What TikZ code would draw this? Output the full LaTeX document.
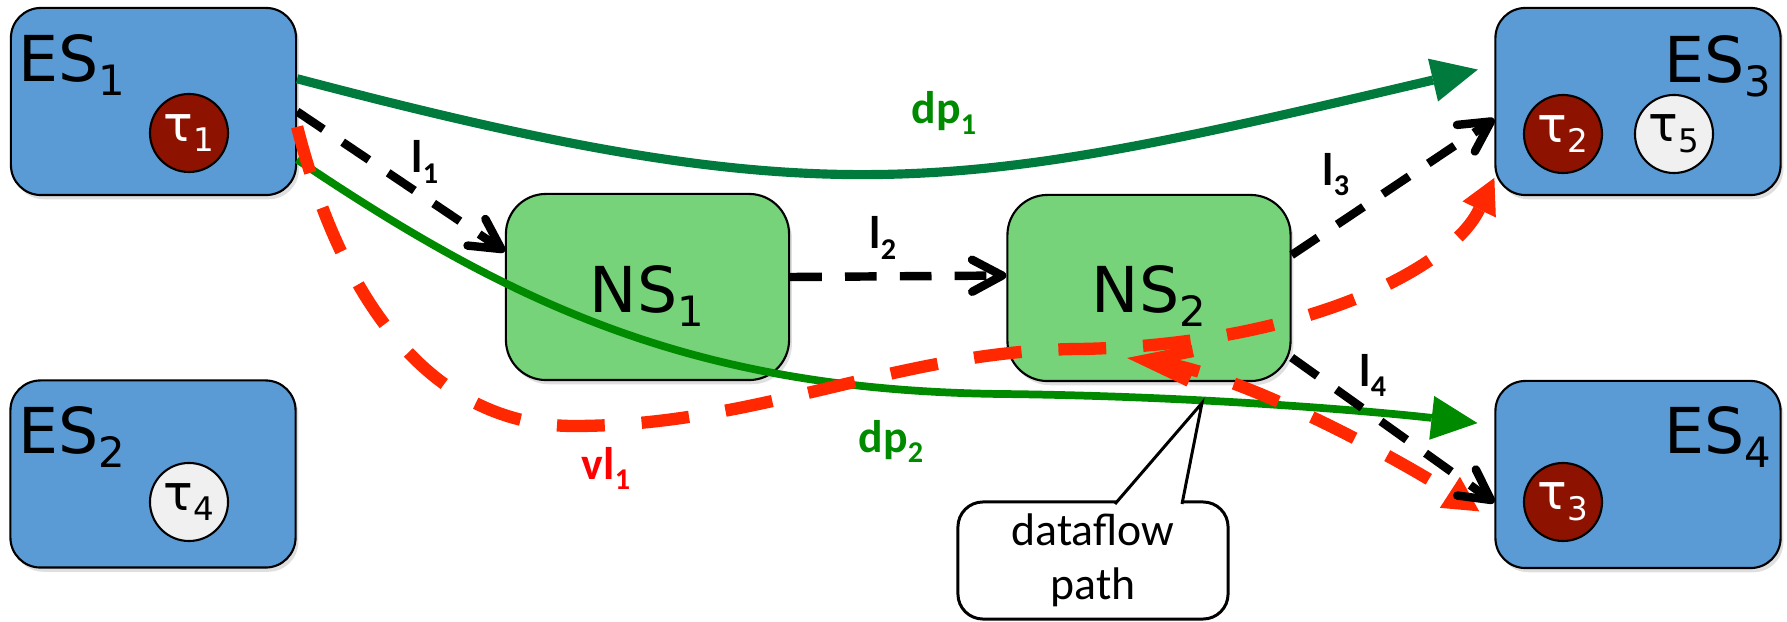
\documentclass[tikz,border=0pt]{standalone}
\usepackage{fontspec}
\setmainfont{DejaVu Sans}
\newfontfamily\calib{Carlito}
\usetikzlibrary{arrows.meta,shadows}
\definecolor{esblue}{RGB}{91,155,213}
\definecolor{nsgreen}{RGB}{118,211,122}
\definecolor{taured}{RGB}{142,18,0}
\definecolor{taulight}{RGB}{240,240,240}
\definecolor{vlred}{RGB}{255,40,0}
\definecolor{dpone}{RGB}{0,122,61}
\definecolor{dptwo}{RGB}{0,138,0}
\newcommand{\idx}[1]{\raisebox{-0.22em}{\scalebox{0.66}{#1}}}

\begin{document}
\begin{tikzpicture}[x=0.01cm,y=-0.01cm,
  es/.style={draw,fill=esblue,rounded corners=0.3cm,minimum width=2.85cm,minimum height=1.87cm,line width=0.6pt,
    drop shadow={opacity=0.25,shadow xshift=0.8pt,shadow yshift=-1.2pt}},
  ns/.style={draw,fill=nsgreen,rounded corners=0.4cm,minimum width=2.83cm,minimum height=1.86cm,line width=0.6pt,
    drop shadow={opacity=0.25,shadow xshift=0.8pt,shadow yshift=-1.2pt}},
  eslab/.style={inner sep=0pt,font=\fontsize{18}{20}\selectfont},
  task/.style={circle,draw,line width=0.6pt,minimum size=0.78cm,inner sep=0pt,font=\fontsize{14}{16}\selectfont},
  hot/.style={task,fill=taured,text=white},
  idle/.style={task,fill=taulight},
  link/.style={line width=2.4pt,dash pattern=on 9pt off 6.6pt,-{Straight Barb[length=0.3cm,width=0.32cm,round]}},
  dflow/.style={line width=2.6pt,-{Triangle[length=0.46cm,width=0.44cm,line width=0pt]}},
  vlink/.style={color=vlred,line width=3.5pt,dash pattern=on 13.6pt off 10.5pt},
  vtip/.style={-{Triangle[length=0.35cm,width=0.37cm,line width=0pt]}},
  lab/.style={inner sep=0pt,font=\calib\bfseries\fontsize{13}{15}\selectfont},
]
\useasboundingbox (0,0) rectangle (1787,622);
% end systems and switches
\node[es] (ES1) at (153.5,101.5) {};
\node[es] (ES2) at (153,474) {};
\node[es] (ES3) at (1638,101.5) {};
\node[es] (ES4) at (1638,474.5) {};
\node[ns] (NS1) at (647.5,287) {};
\node[ns] (NS2) at (1149,288) {};
\node[eslab,anchor=base west] (ES1t) at (18,82) {ES\idx{1}};
\node[eslab,anchor=base west] (ES2t) at (18,454) {ES\idx{2}};
\node[eslab,anchor=base east] (ES3t) at (1772,83) {ES\idx{3}};
\node[eslab,anchor=base east] (ES4t) at (1772,454) {ES\idx{4}};
\node[eslab,anchor=base] (NS1t) at (647,313) {NS\idx{1}};
\node[eslab,anchor=base] (NS2t) at (1149,313) {NS\idx{2}};
% tasks
\node[hot] (t1) at (189,133) {τ\idx{1}};
\node[idle] (t4) at (189,502) {τ\idx{4}};
\node[hot] (t2) at (1563,134) {τ\idx{2}};
\node[idle] (t5) at (1674,134) {τ\idx{5}};
\node[hot] (t3) at (1563,502) {τ\idx{3}};
% dataflow paths
\draw[dflow,color=dpone,shorten >=0.17cm] (ES1.9.8) .. controls (833,220) and (956,192) .. (ES3.166.4);
\draw[dflow,color=dptwo,line width=2.2pt,shorten >=0.17cm] (ES1.-22.3) .. controls (520,310) and (700,390) .. (1000,394)
  .. controls (1200,396) and (1380,412) .. (ES4.161.9);
% virtual link
\draw[vlink,vtip] (ES1.-10.1) .. controls (345,315) and (440,426) .. (574,426)
  .. controls (760,426) and (900,350) .. (1080,349) .. controls (1300,345) and (1450,270) .. (ES3.208);
\coordinate (vlsplit) at (1127,358);
\draw[vlink,{Straight Barb[length=0.45cm,width=0.3cm]}-{Triangle[length=0.35cm,width=0.37cm,line width=0pt]},shorten >=0.18cm]
  (vlsplit) .. controls (1240,372) and (1400,460) .. (ES4.-162.3);
% links
\draw[link] (ES1.-4.6) -- (NS1.166.6);
\draw[link] (NS1.4) -- (NS2.175.5);
\draw[link] (NS2.13.2) -- (ES3.-173.8);
\draw[link] (NS2.-26.4) -- (ES4.-169.8);
% labels
\node[lab] (l1) at (425,162) {l\idx{1}};
\node[lab] (l2) at (883,238) {l\idx{2}};
\node[lab] (l3) at (1336,175) {l\idx{3}};
\node[lab] (l4) at (1373,375) {l\idx{4}};
\node[lab,text=dptwo] (dp1) at (944,113) {dp\idx{1}};
\node[lab,text=dptwo] (dp2) at (891,441) {dp\idx{2}};
\node[lab,text=red] (vl1) at (606,468) {vl\idx{1}};
% callout
\node[draw,line width=0.85pt,rounded corners=0.25cm,fill=white,minimum width=2.7cm,minimum height=1.17cm,align=center,
  font=\calib\fontsize{13}{15.4}\selectfont] (dfnote) at (1093,560.5) {dataflow\\path};
\coordinate (dftip) at (1202,403);
\draw[line width=0.85pt,fill=white] (1115,504) -- (dftip) -- (1182,504);
\end{tikzpicture}
\end{document}
